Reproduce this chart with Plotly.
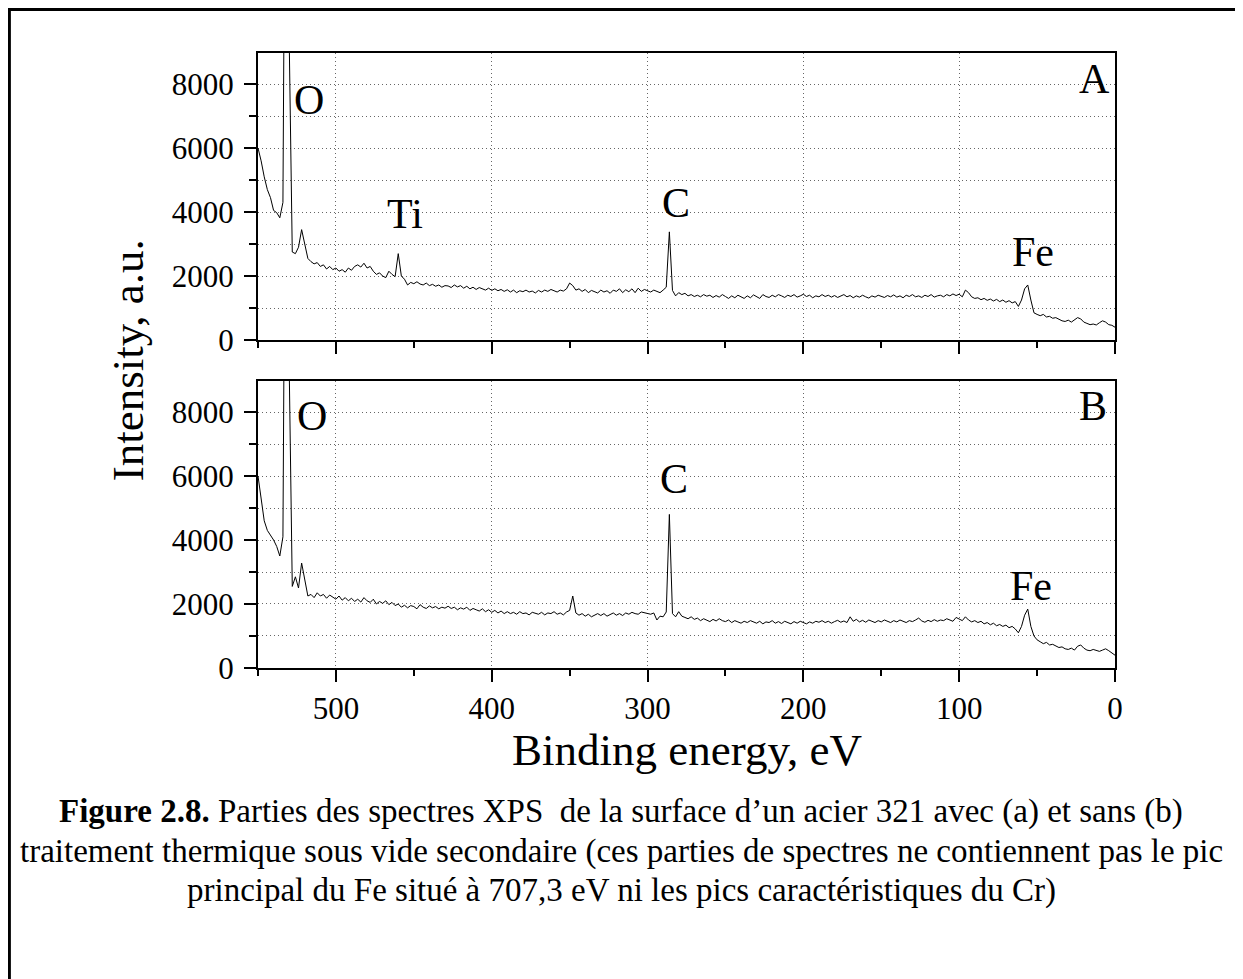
import plotly.graph_objects as go

# ---------------- DATA ----------------
# XPS intensities sampled every 2 eV from 550 eV down to 0 eV
energy_start_eV = 550
energy_step_eV = -2

intensity_A = [
    6000, 5600, 5100, 4700, 4450, 4050, 3980, 3820, 4300, 21000,   # 550-532
    9500, 2750, 2700, 2900, 3450, 2950, 2550, 2450, 2380, 2420,    # 530-512
    2300, 2350, 2220, 2300, 2200, 2250, 2150, 2200, 2120, 2250,    # 510-492
    2180, 2300, 2350, 2280, 2400, 2250, 2300, 2150, 2050, 2100,    # 490-472
    2000, 1950, 2150, 2050, 1980, 2700, 2000, 1900, 1720, 1800,    # 470-452
    1760, 1820, 1750, 1720, 1780, 1700, 1740, 1680, 1720, 1650,    # 450-432
    1700, 1690, 1640, 1720, 1660, 1700, 1620, 1680, 1600, 1650,    # 430-412
    1580, 1640, 1600, 1560, 1620, 1550, 1600, 1540, 1580, 1520,    # 410-392
    1570, 1500, 1560, 1480, 1540, 1510, 1560, 1500, 1530, 1470,    # 390-372
    1550, 1500, 1560, 1520, 1580, 1540, 1500, 1560, 1530, 1600,    # 370-352
    1780, 1700, 1560, 1600, 1520, 1580, 1480, 1550, 1500, 1470,    # 350-332
    1560, 1500, 1540, 1460, 1560, 1520, 1600, 1480, 1570, 1510,    # 330-312
    1600, 1480, 1620, 1520, 1580, 1550, 1500, 1560, 1520, 1480,    # 310-292
    1560, 1650, 3380, 1550, 1380, 1480, 1420, 1460, 1380, 1420,    # 290-272
    1360, 1400, 1350, 1420, 1370, 1400, 1330, 1390, 1340, 1420,    # 270-252
    1360, 1300, 1380, 1320, 1400, 1350, 1300, 1380, 1320, 1410,    # 250-232
    1350, 1300, 1420, 1360, 1330, 1400, 1350, 1420, 1380, 1330,    # 230-212
    1400, 1360, 1420, 1340, 1380, 1430, 1360, 1400, 1320, 1380,    # 210-192
    1350, 1420, 1360, 1400, 1340, 1390, 1330, 1380, 1420, 1350,    # 190-172
    1390, 1320, 1380, 1340, 1400, 1350, 1310, 1380, 1340, 1400,    # 170-152
    1360, 1330, 1390, 1350, 1410, 1340, 1380, 1320, 1400, 1360,    # 150-132
    1420, 1350, 1380, 1330, 1400, 1360, 1420, 1340, 1380, 1400,    # 130-112
    1350, 1420, 1380, 1440, 1390, 1430, 1350, 1560, 1480, 1350,    # 110-92
    1300, 1320, 1260, 1300, 1240, 1280, 1220, 1270, 1200, 1250,    # 90-72
    1180, 1230, 1160, 1200, 1050, 1250, 1600, 1720, 1250, 850,     # 70-52
    800, 760, 800, 720, 740, 680, 700, 640, 600, 580,              # 50-32
    620, 560, 640, 700, 660, 560, 520, 480, 500, 470,              # 30-12
    540, 600, 560, 480, 460, 400,                                  # 10-0
]

intensity_B = [
    6000, 5300, 4600, 4300, 4150, 4000, 3800, 3500, 4100, 21000,   # 550-532
    9500, 2550, 2850, 2500, 3280, 2800, 2250, 2300, 2200, 2350,    # 530-512
    2250, 2300, 2180, 2280, 2200, 2150, 2250, 2120, 2200, 2100,    # 510-492
    2180, 2080, 2150, 2060, 2200, 2100, 2050, 2150, 2000, 2080,    # 490-472
    2020, 2100, 1980, 2050, 1950, 2000, 1900, 1960, 1880, 1950,    # 470-452
    1920, 1850, 1980, 1900, 1860, 1940, 1880, 1920, 1850, 1900,    # 450-432
    1870, 1930, 1860, 1900, 1820, 1880, 1840, 1900, 1800, 1860,    # 430-412
    1820, 1780, 1850, 1760, 1820, 1740, 1800, 1720, 1780, 1700,    # 410-392
    1760, 1700, 1740, 1680, 1760, 1700, 1720, 1660, 1740, 1700,    # 390-372
    1680, 1740, 1660, 1720, 1700, 1760, 1680, 1720, 1660, 1750,    # 370-352
    1800, 2250, 1720, 1650, 1700, 1620, 1680, 1600, 1660, 1700,    # 350-332
    1640, 1700, 1620, 1680, 1720, 1650, 1700, 1640, 1720, 1680,    # 330-312
    1740, 1700, 1680, 1750, 1720, 1700, 1680, 1720, 1500, 1620,    # 310-292
    1600, 1750, 4800, 1700, 1600, 1760, 1620, 1580, 1540, 1600,    # 290-272
    1520, 1560, 1480, 1540, 1500, 1450, 1520, 1470, 1540, 1480,    # 270-252
    1450, 1500, 1420, 1480, 1440, 1400, 1460, 1420, 1480, 1440,    # 250-232
    1400, 1460, 1380, 1440, 1420, 1480, 1400, 1450, 1390, 1460,    # 230-212
    1420, 1380, 1450, 1400, 1460, 1420, 1380, 1440, 1400, 1460,    # 210-192
    1430, 1480, 1420, 1460, 1400, 1450, 1490, 1430, 1470, 1420,    # 190-172
    1600, 1460, 1520, 1440, 1490, 1430, 1500, 1460, 1420, 1480,    # 170-152
    1440, 1500, 1450, 1420, 1480, 1440, 1500, 1460, 1420, 1480,    # 150-132
    1450, 1500, 1560, 1470, 1430, 1490, 1450, 1510, 1460, 1500,    # 130-112
    1480, 1540, 1500, 1460, 1580, 1520, 1480, 1600, 1500, 1440,    # 110-92
    1480, 1420, 1460, 1380, 1420, 1350, 1400, 1320, 1360, 1300,    # 90-72
    1340, 1260, 1300, 1220, 1100, 1300, 1650, 1840, 1300, 1000,    # 70-52
    880, 820, 760, 800, 720, 740, 680, 640, 660, 600,              # 50-32
    580, 620, 560, 680, 720, 620, 560, 540, 580, 560,              # 30-12
    520, 560, 600, 540, 480, 400,                                  # 10-0
]

x_tick_vals = [500, 400, 300, 200, 100, 0]
y_tick_vals = [0, 2000, 4000, 6000, 8000]

# peak labels: (text, energy, intensity)
labels_A = [("O", 517, 7500), ("Ti", 455.6, 3950), ("C", 281.7, 4270),
            ("Fe", 52.9, 2760), ("A", 13.4, 8160)]
labels_B = [("O", 515.5, 7870), ("C", 283, 5900), ("Fe", 54.2, 2550),
            ("B", 14.4, 8180)]

x_title = "Binding energy, eV"
y_title = "Intensity, a.u."
caption = [
    "<b>Figure 2.8.</b> Parties des spectres XPS  de la surface d’un acier 321 avec (a) et sans (b)",
    "traitement thermique sous vide secondaire (ces parties de spectres ne contiennent pas le pic",
    "principal du Fe situé à 707,3 eV ni les pics caractéristiques du Cr)",
]

# ---------------- FIGURE ----------------
FONT = "Liberation Serif, Times New Roman, serif"
GRID = "#666666"

fig = go.Figure()
fig.add_trace(go.Scatter(y=intensity_A, x0=energy_start_eV, dx=energy_step_eV,
                         mode="lines", line=dict(color="black", width=1),
                         xaxis="x", yaxis="y", showlegend=False))
fig.add_trace(go.Scatter(y=intensity_B, x0=energy_start_eV, dx=energy_step_eV,
                         mode="lines", line=dict(color="black", width=1),
                         xaxis="x2", yaxis="y2", showlegend=False))


def xax(show_labels, anchor):
    return dict(
        anchor=anchor, domain=[0, 1], range=[550, 0],
        tickmode="array", tickvals=x_tick_vals,
        showticklabels=show_labels,
        ticks="outside", ticklen=12, tickwidth=2, tickcolor="black",
        showline=True, linewidth=2, linecolor="black", mirror=True,
        showgrid=True, gridcolor=GRID, gridwidth=1, griddash="1px,3px",
        zeroline=False,
        minor=dict(dtick=50, tick0=0, ticks="outside", ticklen=6,
                   tickwidth=2, tickcolor="black", showgrid=False),
        tickfont=dict(family=FONT, size=31, color="black"),
    )


def yax(domain, anchor):
    return dict(
        anchor=anchor, domain=domain, range=[0, 8970],
        tickmode="array", tickvals=y_tick_vals,
        ticks="outside", ticklen=12, tickwidth=2, tickcolor="black",
        showline=True, linewidth=2, linecolor="black", mirror=True,
        showgrid=True, gridcolor=GRID, gridwidth=1, griddash="1px,3px",
        zeroline=False,
        minor=dict(dtick=1000, tick0=0, ticks="outside", ticklen=7,
                   tickwidth=2, tickcolor="black", showgrid=True,
                   gridcolor=GRID, gridwidth=1, griddash="1px,3px"),
        tickfont=dict(family=FONT, size=31, color="black"),
        ticklabelstandoff=4,
    )


annotations = []
for text, xe, yv in labels_A:
    annotations.append(dict(x=xe, y=yv, xref="x", yref="y", text=text,
                            showarrow=False, xanchor="center", yanchor="middle",
                            font=dict(family=FONT, size=42, color="black")))
for text, xe, yv in labels_B:
    annotations.append(dict(x=xe, y=yv, xref="x2", yref="y2", text=text,
                            showarrow=False, xanchor="center", yanchor="middle",
                            font=dict(family=FONT, size=42, color="black")))

annotations.append(dict(x=0.5, y=-0.133, xref="paper", yref="paper",
                        text=x_title, showarrow=False, xanchor="center",
                        yanchor="middle",
                        font=dict(family=FONT, size=45, color="black")))
annotations.append(dict(x=-0.152, y=0.5, xref="paper", yref="paper",
                        text=y_title, showarrow=False, textangle=-90,
                        xanchor="center", yanchor="middle",
                        font=dict(family=FONT, size=45, color="black")))
for line, yp in zip(caption, [-0.234, -0.299, -0.361]):
    annotations.append(dict(x=0.4236, y=yp, xref="paper", yref="paper",
                            text=line, showarrow=False, xanchor="center",
                            yanchor="middle",
                            font=dict(family=FONT, size=33, color="black")))

# the page body adds an 8 px offset; margins account for it
fig.update_layout(
    width=1235, height=971,
    margin=dict(l=250, r=128, t=45, b=311),
    paper_bgcolor="white", plot_bgcolor="white",
    xaxis=xax(False, "y"),
    xaxis2=xax(True, "y2"),
    yaxis=yax([0.5333, 1.0], "x"),
    yaxis2=yax([0.0, 0.4667], "x2"),
    annotations=annotations,
    shapes=[dict(type="rect", xref="paper", yref="paper",
                 x0=-0.2901, x1=1.17, y0=-0.53, y1=1.0707,
                 line=dict(color="black", width=3), layer="below")],
    showlegend=False,
)

fig.write_html("out.html")
